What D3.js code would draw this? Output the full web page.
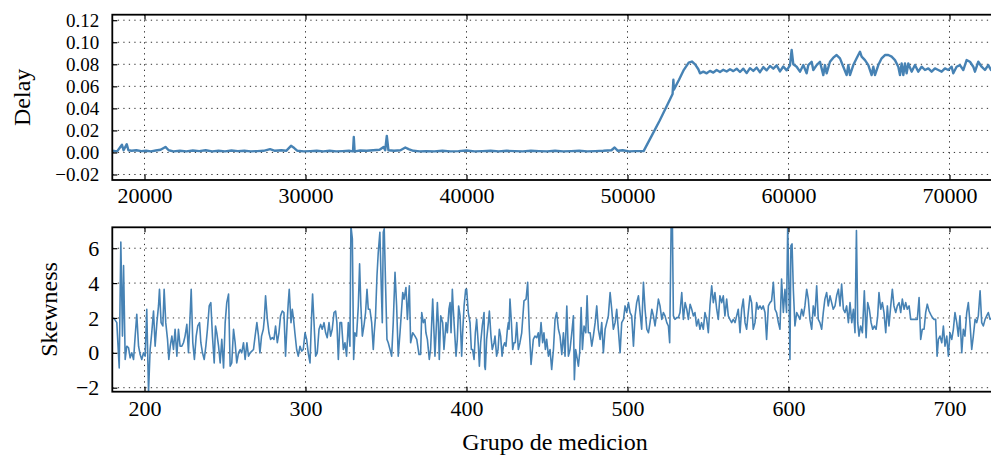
<!DOCTYPE html>
<html>
<head>
<meta charset="utf-8">
<script src="https://cdn.jsdelivr.net/npm/d3@7"></script>
<style>
  html, body { margin: 0; padding: 0; background: #fff; }
  svg { display: block; }
  text { font-family: "Liberation Serif", "DejaVu Serif", serif; fill: #000; }
</style>
</head>
<body>
<svg id="chart" width="991" height="462"></svg>
<script>
// Delay per sample: [sample, delay]
const delayPoints = [
  [18000,0.0015],[18300,0.001],[18600,0.007],[18700,0.002],[18900,0.0075],[19000,0.002],
  [19200,0.0015],[19500,0.002],[19800,0.0012],[20100,0.0015],[20400,0.001],[20700,0.0018],
  [21000,0.0025],[21300,0.005],[21500,0.002],[21800,0.001],[22200,0.0015],[22600,0.001],
  [23000,0.0018],[23400,0.0012],[23800,0.002],[24200,0.001],[24600,0.0015],[25000,0.001],
  [25400,0.0018],[25800,0.0012],[26200,0.0015],[26600,0.001],[27000,0.0012],[27400,0.0015],
  [27800,0.003],[28100,0.0015],[28500,0.002],[28800,0.0015],[29100,0.006],[29300,0.004],
  [29500,0.0015],[29900,0.001],[30300,0.0012],[30700,0.0015],[31100,0.001],[31500,0.0015],
  [31900,0.001],[32300,0.0012],[32700,0.0015],[32950,0.001],[33000,0.014],[33050,0.001],
  [33400,0.0018],[33800,0.0015],[34200,0.002],[34600,0.0025],[34850,0.005],[34950,0.002],
  [35050,0.015],[35150,0.002],[35500,0.0015],[35900,0.002],[36200,0.0045],[36400,0.003],
  [36700,0.0015],[37100,0.001],[37500,0.0012],[38000,0.001],[38500,0.0015],[39000,0.001],
  [39500,0.0012],[40000,0.0018],[40500,0.001],[41000,0.0012],[41500,0.0015],[42000,0.001],
  [42500,0.0015],[43000,0.0012],[43500,0.001],[44000,0.0015],[44500,0.0012],[45000,0.001],
  [45500,0.0015],[46000,0.001],[46500,0.0012],[47000,0.0015],[47500,0.001],[48000,0.0012],
  [48500,0.0015],[49000,0.002],[49200,0.0045],[49400,0.0015],[49700,0.002],[50100,0.001],
  [50500,0.0012],[51000,0.0012],[51500,0.015],[52000,0.029],[52500,0.044],[52800,0.053],
  [52850,0.066],[52880,0.057],[53200,0.066],[53500,0.075],[53800,0.0815],[54000,0.0825],
  [54200,0.080],[54400,0.0755],[54503,0.0718],[54710,0.0733],[54917,0.0718],[55124,0.0740],
  [55331,0.0725],[55538,0.0748],[55745,0.0730],[55952,0.0750],[56159,0.0735],[56366,0.0755],
  [56573,0.0738],[56780,0.0760],[56987,0.0730],[57194,0.0760],[57401,0.0720],[57608,0.0765],
  [57815,0.0740],[58022,0.0770],[58229,0.0728],[58436,0.0775],[58643,0.0745],[58850,0.0785],
  [59057,0.0760],[59264,0.0790],[59471,0.0735],[59678,0.0780],[59885,0.0745],[60092,0.0790],
  [60196,0.0930],[60299,0.0800],[60506,0.0778],[60713,0.0733],[60920,0.0793],[61127,0.0718],
  [61231,0.0793],[61438,0.0823],[61541,0.0748],[61748,0.0793],[61955,0.0823],[62162,0.0702],
  [62266,0.0793],[62369,0.0718],[62576,0.0823],[62783,0.0860],[62990,0.0884],[63197,0.0854],
  [63404,0.0778],[63611,0.0702],[63715,0.0793],[63818,0.0702],[64025,0.0793],[64232,0.0854],
  [64439,0.0914],[64543,0.0869],[64750,0.0838],[64957,0.0793],[65164,0.0702],[65268,0.0778],
  [65371,0.0702],[65578,0.0793],[65785,0.0854],[65992,0.0884],[66199,0.0884],[66406,0.0869],
  [66613,0.0838],[66820,0.0778],[66924,0.0702],[67027,0.0808],[67131,0.0702],[67234,0.0808],
  [67337,0.0718],[67441,0.0808],[67648,0.0733],[67855,0.0793],[68062,0.0733],[68269,0.0778],
  [68476,0.0748],[68683,0.0763],[68890,0.0733],[69097,0.0763],[69304,0.0748],[69511,0.0733],
  [69718,0.0763],[69925,0.0748],[70132,0.0778],[70235,0.0718],[70442,0.0778],[70649,0.0793],
  [70856,0.0748],[71063,0.0838],[71270,0.0823],[71477,0.0778],[71581,0.0733],[71788,0.0823],
  [71995,0.0778],[72202,0.0748],[72409,0.0793],[72575,0.0748],[72800,0.0770],[73000,0.0750]
];

// Skewness per measurement group: [group, skewness]
const skewPoints = [
  [180.7,2.02],[182.8,1.73],[184.3,-0.87],[185.3,6.35],[186.3,0.96],[187.0,5.0],[188.0,-0.38],
  [189.0,0.38],[190.1,0.29],[191.1,-0.29],[192.1,0.0],[193.2,-0.38],[194.2,0.96],[195.2,2.21],
  [196.3,0.38],[197.3,-0.1],[198.3,-0.38],[199.4,0.0],[200.4,-0.19],[201.4,2.5],[202.5,-2.23],
  [203.5,0.19],[204.5,1.15],[205.6,2.4],[206.6,0.38],[207.7,1.73],[208.7,2.69],[209.3,3.65],
  [210.3,1.73],[211.4,1.54],[212.2,3.65],[213.2,1.73],[214.3,0.77],[215.1,-0.38],[216.0,0.38],
  [217.0,0.96],[218.0,0.19],[219.0,1.35],[220.1,-0.19],[221.1,1.35],[222.1,0.38],[223.2,0.38],
  [224.2,0.58],[225.2,0.96],[226.3,1.63],[227.3,0.0],[228.4,2.31],[229.0,3.65],[230.0,0.58],
  [231.0,-0.38],[232.1,0.96],[233.1,1.54],[234.2,1.73],[235.0,0.58],[236.0,0.0],[237.1,-0.38],
  [238.1,0.38],[239.1,1.35],[240.2,2.69],[241.2,2.88],[242.2,0.96],[243.3,-0.58],[244.1,1.54],
  [244.9,1.15],[246.0,0.38],[247.0,-0.58],[248.0,0.77],[249.1,-0.87],[250.1,1.73],[251.1,2.88],
  [252.2,3.37],[253.2,-0.77],[254.2,-0.58],[255.3,1.35],[256.3,0.58],[257.3,-0.58],[258.4,0.0],
  [259.4,0.19],[260.4,0.0],[261.5,0.58],[262.5,-0.38],[263.6,0.58],[264.6,-0.19],[265.6,0.0],
  [266.7,0.1],[267.7,0.19],[268.7,0.96],[269.8,1.73],[270.8,0.96],[271.7,0.0],[272.7,0.96],
  [273.8,1.35],[274.4,1.92],[275.2,3.27],[276.3,1.92],[277.3,1.15],[278.3,0.77],[279.4,0.87],
  [280.4,0.77],[281.4,1.54],[282.5,0.58],[283.5,1.15],[284.5,2.12],[285.6,2.4],[286.6,2.31],
  [287.6,-0.19],[288.7,1.92],[289.3,2.88],[289.9,3.65],[291.0,1.73],[291.8,2.5],[292.6,1.92],
  [293.4,1.15],[294.5,0.19],[295.5,-0.19],[296.6,0.38],[297.6,0.1],[298.6,0.19],[299.7,1.15],
  [300.7,0.77],[301.7,0.0],[302.8,-0.58],[303.8,2.12],[304.4,3.37],[305.4,1.54],[306.3,-0.19],
  [307.3,0.0],[308.4,1.35],[309.4,1.63],[310.4,1.35],[311.5,1.73],[312.5,1.15],[313.5,0.87],
  [314.6,1.73],[315.6,0.96],[316.6,1.35],[317.7,2.31],[318.7,2.4],[319.5,1.73],[320.4,-0.38],
  [321.4,1.73],[322.4,1.73],[323.5,0.19],[324.5,0.58],[325.5,-0.19],[326.6,1.73],[327.6,0.38],
  [328.2,7.3],[329.1,6.54],[329.9,-0.38],[330.7,1.15],[331.7,0.96],[332.8,2.69],[333.6,5.1],
  [334.4,2.69],[335.3,0.96],[336.3,1.54],[337.3,2.31],[338.2,3.65],[339.0,2.5],[340.0,2.5],
  [341.1,1.73],[342.1,0.19],[342.7,1.15],[343.5,2.12],[344.4,4.42],[345.2,5.77],[346.2,6.92],
  [347.1,3.65],[347.7,1.73],[348.3,6.92],[348.9,7.12],[349.8,3.65],[350.6,0.77],[351.4,0.58],
  [352.5,0.19],[353.5,-0.19],[354.5,1.73],[355.6,4.62],[356.6,2.69],[357.6,-0.19],[358.7,1.15],
  [360.4,3.46],[361.2,3.08],[362.4,3.75],[363.3,1.92],[364.5,3.85],[365.3,0.58],[366.6,1.15],
  [368.0,0.96],[369.1,0.77],[370.5,-0.1],[371.5,-0.1],[372.2,2.31],[373.2,1.73],[374.2,1.92],
  [374.8,1.15],[375.7,0.77],[376.9,-0.38],[377.7,0.19],[379.0,3.08],[380.4,-0.19],[381.1,1.15],
  [381.9,2.88],[382.5,1.73],[383.1,-0.38],[384.0,2.12],[385.2,1.73],[386.0,0.19],[387.3,1.73],
  [388.1,1.15],[389.1,2.5],[389.8,2.88],[390.4,1.15],[391.2,3.65],[391.8,2.5],[393.5,-0.19],
  [394.3,0.77],[395.1,2.69],[396.0,2.12],[397.0,-0.19],[397.6,1.15],[398.5,2.69],[399.5,3.65],
  [400.1,3.65],[401.1,2.31],[402.2,1.73],[403.0,0.19],[403.8,0.19],[404.7,-0.38],[405.5,1.15],
  [406.3,1.92],[407.4,0.38],[408.0,-0.77],[408.8,0.58],[409.8,1.54],[410.9,2.31],[411.3,-0.77],
  [411.7,-0.96],[412.5,0.77],[413.6,1.73],[414.2,2.4],[415.2,0.96],[416.0,0.19],[417.1,0.58],
  [417.7,0.96],[418.7,-0.19],[419.6,0.19],[420.4,1.35],[421.2,0.96],[422.1,-0.19],[422.9,0.38],
  [423.7,0.58],[424.5,0.38],[425.4,1.35],[426.0,1.73],[426.4,1.35],[427.0,3.08],[427.9,1.73],
  [428.7,0.19],[429.5,0.58],[430.3,0.58],[431.2,1.73],[432.2,0.19],[433.2,0.58],[434.3,1.15],
  [435.7,2.98],[437.0,3.08],[438.0,4.04],[438.4,2.88],[439.0,1.35],[440.1,-0.67],[441.5,0.77],
  [442.5,0.96],[443.6,0.87],[444.6,1.15],[445.2,0.38],[446.3,1.73],[447.3,0.58],[448.1,1.15],
  [449.0,0.19],[449.8,0.77],[450.9,-0.19],[451.9,0.19],[452.9,-0.96],[454.0,0.19],[455.0,1.92],
  [456.0,2.31],[457.1,1.35],[458.1,0.96],[459.2,-0.1],[460.2,1.15],[461.2,-0.19],[462.3,2.69],
  [463.3,-0.19],[464.3,0.19],[465.4,1.15],[466.4,2.12],[467.0,-1.54],[467.8,0.19],[468.5,-0.19],
  [469.5,-0.77],[470.3,0.0],[471.2,2.6],[472.0,0.19],[473.0,1.54],[474.1,1.15],[474.9,3.27],
  [475.7,1.15],[476.8,1.15],[477.8,0.38],[478.8,0.96],[479.9,1.73],[480.9,2.69],[481.9,1.35],
  [483.0,0.77],[484.0,1.73],[485.0,0.0],[486.1,1.35],[487.1,1.73],[488.1,2.12],[489.2,3.46],
  [490.2,2.5],[491.2,1.35],[492.3,1.73],[493.3,2.5],[494.3,1.35],[495.4,0.0],[496.4,1.73],
  [497.5,1.92],[498.5,2.69],[499.5,2.31],[500.6,2.88],[501.6,2.31],[502.6,2.12],[503.7,0.38],
  [504.7,2.12],[505.7,2.88],[506.8,3.27],[507.8,2.31],[508.8,1.35],[509.9,4.04],[510.9,2.5],
  [512.0,1.35],[513.0,1.15],[514.0,1.73],[515.1,2.5],[516.1,2.12],[517.1,1.54],[518.2,2.31],
  [519.2,3.08],[520.2,2.69],[521.3,1.92],[522.3,2.31],[523.3,2.12],[524.4,1.73],[525.4,1.54],
  [526.2,0.58],[527.1,7.3],[527.9,7.3],[528.5,2.12],[529.5,1.92],[530.6,2.02],[531.6,2.02],
  [532.6,2.31],[533.7,3.46],[534.7,1.92],[535.8,2.88],[536.8,2.5],[537.8,1.92],[538.9,2.79],
  [539.9,2.5],[540.9,2.12],[541.9,2.31],[542.9,1.54],[544.0,1.92],[545.0,1.35],[546.0,1.73],
  [547.1,1.35],[548.1,2.31],[549.2,1.92],[550.2,1.15],[551.2,2.69],[552.3,3.85],[553.3,2.88],
  [554.3,3.46],[555.4,2.5],[556.4,1.92],[557.4,3.27],[558.5,2.88],[559.5,3.27],[560.5,2.12],
  [561.6,3.08],[562.6,2.12],[563.6,1.92],[564.7,1.73],[565.7,1.92],[566.8,1.73],[567.8,2.12],
  [568.8,2.5],[569.9,1.15],[570.9,2.5],[571.9,3.08],[573.0,1.73],[574.0,1.35],[575.0,2.31],
  [576.1,3.27],[577.1,2.88],[578.1,1.35],[579.2,1.73],[580.2,2.88],[581.2,2.5],[582.3,2.69],
  [583.3,2.5],[584.3,2.69],[585.4,2.31],[586.4,0.77],[587.5,2.69],[588.5,2.88],[589.5,2.98],
  [590.6,4.04],[591.6,2.5],[592.6,2.31],[593.7,1.73],[594.7,1.35],[595.7,4.23],[596.8,2.31],
  [597.8,3.65],[598.8,2.31],[599.5,7.3],[600.3,3.65],[600.9,-0.38],[601.5,6.15],[602.2,6.25],
  [603.0,3.65],[604.0,1.54],[605.1,2.31],[606.1,2.12],[607.1,1.92],[608.2,2.5],[609.2,2.12],
  [610.2,2.69],[611.3,3.65],[612.3,3.08],[613.3,1.92],[614.4,1.35],[615.4,2.69],[616.4,2.12],
  [617.5,3.85],[618.5,1.92],[619.5,1.73],[620.6,1.35],[621.6,2.31],[622.6,3.08],[623.7,3.46],
  [624.7,2.69],[625.8,3.27],[626.8,2.88],[627.8,2.5],[628.9,2.69],[629.9,3.27],[631.0,3.65],
  [632.0,2.69],[633.0,3.94],[634.1,2.5],[635.1,2.31],[636.1,2.69],[637.2,1.73],[638.2,2.88],
  [639.3,1.73],[640.3,2.5],[641.3,1.15],[642.2,7.02],[643.0,1.73],[643.8,0.96],[644.8,1.54],
  [645.9,1.15],[647.1,3.56],[648.2,0.87],[649.2,2.88],[650.2,2.5],[651.3,1.73],[652.3,1.35],
  [653.3,1.54],[654.4,1.35],[655.4,2.12],[656.2,3.46],[657.3,2.5],[658.3,2.88],[659.3,2.31],
  [660.4,1.15],[661.4,2.69],[662.4,1.54],[663.5,2.69],[664.5,3.65],[665.5,2.69],[666.6,2.31],
  [667.6,2.69],[668.7,2.88],[669.7,2.31],[670.7,3.08],[671.8,2.5],[672.8,2.88],[673.8,2.5],
  [674.9,2.69],[675.9,1.92],[676.9,1.92],[678.0,1.92],[679.0,1.92],[680.0,1.92],[681.1,3.17],
  [682.1,0.77],[683.1,1.35],[684.2,1.35],[685.2,2.31],[686.2,2.79],[687.3,2.4],[688.3,2.21],
  [689.4,2.02],[690.4,1.92],[691.4,1.92],[692.3,-0.19],[693.1,0.77],[694.1,0.96],[695.2,0.58],
  [696.2,1.54],[697.2,0.38],[698.3,0.96],[699.3,-0.19],[700.3,1.15],[701.4,0.77],[702.4,1.35],
  [703.4,2.31],[704.5,1.73],[705.5,0.96],[706.5,2.12],[707.6,0.0],[708.6,1.35],[709.6,0.96],
  [710.7,2.31],[711.7,2.88],[712.7,1.73],[713.8,0.19],[714.8,0.96],[715.9,1.92],[716.9,1.73],
  [717.9,2.12],[719.0,3.56],[720.0,1.73],[721.0,1.54],[722.1,1.92],[723.1,2.12],[724.1,2.31],
  [725.2,1.92],[726.2,2.0],[727.2,1.8],[728.3,2.1]
];

const delayTicksX = [20000, 30000, 40000, 50000, 60000, 70000];
const delayTicksY = [-0.02, 0.00, 0.02, 0.04, 0.06, 0.08, 0.10, 0.12];
const skewTicksX = [200, 300, 400, 500, 600, 700];
const skewTicksY = [-2, 0, 2, 4, 6];

const delayDomainX = [18000, 73000];
const delayDomainY = [-0.025, 0.125];
const skewDomainX = [180, 730];
const skewDomainY = [-2.23, 7.2];

const LINE = "#4682b4";
const svg = d3.select("#chart");
const left = 112.3, right = 997.8;

const minus = s => s.replace("-", "\u2212");

function panel(cfg) {
  const x = d3.scaleLinear().domain(cfg.domX).range([left, right]);
  const y = d3.scaleLinear().domain(cfg.domY).range([cfg.bottom, cfg.top]);
  const g = svg.append("g");
  const clipId = "clip-" + cfg.id;
  svg.append("clipPath").attr("id", clipId)
    .append("rect").attr("x", left).attr("y", cfg.top)
    .attr("width", right - left).attr("height", cfg.bottom - cfg.top);

  // dotted grid
  const grid = g.append("g").attr("stroke", "#333").attr("stroke-width", 1)
    .attr("stroke-dasharray", "1.3,4.2");
  grid.selectAll("line.gx").data(cfg.ticksX).join("line")
    .attr("x1", d => x(d)).attr("x2", d => x(d))
    .attr("y1", cfg.top).attr("y2", cfg.bottom);
  grid.selectAll("line.gy").data(cfg.ticksY).join("line")
    .attr("x1", left).attr("x2", right)
    .attr("y1", d => y(d)).attr("y2", d => y(d));

  // series
  g.append("path").datum(cfg.data)
    .attr("clip-path", `url(#${clipId})`)
    .attr("fill", "none").attr("stroke", LINE)
    .attr("stroke-width", cfg.lw).attr("stroke-linejoin", "round")
    .attr("d", d3.line().x(d => x(d[0])).y(d => y(d[1])));

  // axes with inward ticks on all sides
  const fmtY = cfg.fmtY;
  const axB = d3.axisBottom(x).tickValues(cfg.ticksX).tickSizeInner(-5).tickSizeOuter(0)
    .tickPadding(cfg.padX).tickFormat(d3.format("d"));
  const axT = d3.axisTop(x).tickValues(cfg.ticksX).tickSizeInner(-5).tickSizeOuter(0).tickFormat("");
  const axL = d3.axisLeft(y).tickValues(cfg.ticksY).tickSizeInner(-5).tickSizeOuter(0)
    .tickPadding(13).tickFormat(d => minus(fmtY(d)));
  const axR = d3.axisRight(y).tickValues(cfg.ticksY).tickSizeInner(-5).tickSizeOuter(0).tickFormat("");

  [[axB, `translate(0,${cfg.bottom})`, 22], [axT, `translate(0,${cfg.top})`, 22],
   [axL, `translate(${left},0)`, cfg.fsY], [axR, `translate(${right},0)`, 22]].forEach(([ax, tr, fs]) => {
    const a = g.append("g").attr("transform", tr).call(ax);
    a.select(".domain").remove();
    a.selectAll(".tick line").attr("stroke", "#000").attr("stroke-width", 1.2);
    a.selectAll(".tick text").attr("font-family", "Liberation Serif, serif")
      .attr("font-size", fs).attr("fill", "#000");
  });

  // frame
  g.append("rect").attr("x", left).attr("y", cfg.top)
    .attr("width", right - left).attr("height", cfg.bottom - cfg.top)
    .attr("fill", "none").attr("stroke", "#000").attr("stroke-width", 1.8);

  // y label
  svg.append("text")
    .attr("transform", `translate(${cfg.labelX},${(cfg.top + cfg.bottom) / 2}) rotate(-90)`)
    .attr("text-anchor", "middle").attr("font-size", 24)
    .text(cfg.label);
}

panel({
  id: "delay", data: delayPoints, domX: delayDomainX, domY: delayDomainY,
  ticksX: delayTicksX, ticksY: delayTicksY, top: 14.7, bottom: 180,
  lw: 2.4, fmtY: d3.format(".2f"), fsY: 19, label: "Delay", labelX: 30, padX: 7
});
panel({
  id: "skew", data: skewPoints, domX: skewDomainX, domY: skewDomainY,
  ticksX: skewTicksX, ticksY: skewTicksY, top: 227.3, bottom: 391.7,
  lw: 1.6, fmtY: d3.format("d"), fsY: 22, label: "Skewness", labelX: 57, padX: 9
});

svg.append("text").attr("x", 555).attr("y", 450)
  .attr("text-anchor", "middle").attr("font-size", 24)
  .text("Grupo de medicion");
</script>
</body>
</html>
